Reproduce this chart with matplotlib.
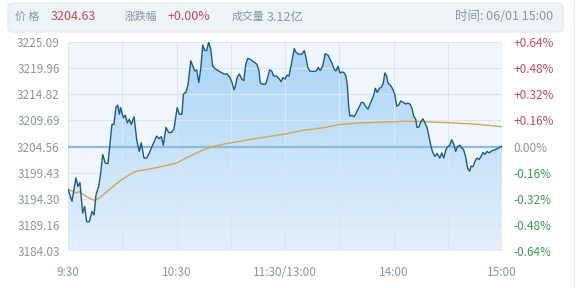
import numpy as np
import matplotlib
matplotlib.use("Agg")
import matplotlib.pyplot as plt
from matplotlib.patches import FancyBboxPatch
from matplotlib.lines import Line2D
from matplotlib.colors import LinearSegmentedColormap

plt.rcParams['font.family'] = ['Noto Sans CJK SC', 'DejaVu Sans']

# ---- data ----
base_price = 3204.56
close_price = 3204.63
change_pct = "+0.00%"
volume = "3.12亿"
time_label = "时间: 06/01 15:00"

price_min = [0, 2.2, 4.4, 5.5, 6.6, 8.1, 9.2, 10.3, 11.8, 13.3, 14.4, 15.5, 17.0, 18.1, 19.2,
             20.6, 22.1, 23.6, 24.3, 25.4, 26.5, 27.5, 28.4, 29.1, 30.6, 31.7, 32.8, 33.9, 35.0,
             36.5, 38.0, 39.4, 40.5, 42.0, 43.5, 45.0, 46.5, 48.1, 49.0, 50.5, 51.6, 52.7, 54.2,
             55.7, 57.1, 58.6, 60.4, 61.5, 63.0, 63.8, 65.3, 66.4, 67.9, 69.0, 70.1, 71.2, 72.3,
             73.4, 74.5, 75.6, 76.7, 77.8, 78.9, 80.0, 81.5, 83.3, 84.8, 86.3, 88.1, 89.6, 90.7,
             91.8, 92.4, 93.6, 94.8, 96.1, 97.2, 98.3, 99.4, 101.2, 103.0, 104.5, 105.6, 106.3,
             107.4, 109.3, 110.4, 111.5, 112.6, 113.8, 115.2, 116.7, 117.8, 118.9, 120.0, 121.1,
             122.2, 123.7, 125.1, 126.2, 127.7, 129.2, 130.7, 131.8, 132.6, 133.7, 135.5, 137.3,
             138.4, 139.5, 140.9, 142.2, 143.8, 144.9, 146.0, 147.1, 148.2, 149.3, 150.4, 151.5,
             152.6, 153.7, 154.5, 155.2, 155.9, 157.1, 158.2, 159.3, 160.8, 162.2, 163.3, 164.4,
             165.9, 167.0, 168.1, 169.2, 169.9, 171.0, 172.2, 173.3, 174.4, 175.2, 176.2, 177.0,
             178.5, 179.6, 180.7, 181.8, 182.9, 184.0, 185.4, 186.9, 188.0, 189.1, 190.1, 191.2,
             192.3, 193.0, 194.1, 195.2, 196.3, 197.4, 198.5, 199.6, 200.7, 201.8, 202.9, 204.1,
             205.6, 206.7, 207.8, 208.9, 210.0, 211.1, 212.2, 213.3, 214.4, 215.5, 216.6, 217.7,
             218.8, 219.9, 221.0, 222.1, 222.9, 224.0, 225.1, 226.2, 227.3, 228.4, 229.5, 230.6,
             231.7, 232.8, 233.9, 235.0, 236.1, 237.2, 238.3, 240]
price_val = [3196.2, 3193.8, 3198.4, 3196.7, 3197.5, 3191.5, 3192.8, 3189.8, 3189.8, 3191.8,
             3191.1, 3195.1, 3196.7, 3199.4, 3203.0, 3201.3, 3201.2, 3206.6, 3208.9, 3208.9,
             3212.2, 3212.7, 3210.9, 3212.2, 3210.2, 3210.7, 3209.2, 3209.9, 3208.9, 3210.4,
             3205.9, 3203.6, 3205.3, 3202.3, 3202.3, 3203.3, 3204.6, 3205.9, 3206.6, 3206.1,
             3206.5, 3204.8, 3208.3, 3207.3, 3207.3, 3208.0, 3212.2, 3210.9, 3210.9, 3214.8,
             3215.3, 3216.8, 3221.4, 3220.4, 3219.4, 3219.6, 3217.1, 3219.8, 3224.5, 3223.4,
             3223.4, 3225.1, 3223.7, 3220.4, 3219.8, 3219.4, 3219.1, 3218.8, 3218.8, 3218.1,
             3217.1, 3215.7, 3216.2, 3218.2, 3218.8, 3217.8, 3217.5, 3220.7, 3221.9, 3221.6,
             3221.1, 3220.7, 3219.4, 3217.1, 3216.8, 3216.8, 3218.1, 3219.6, 3219.4, 3218.4,
             3218.4, 3217.9, 3217.3, 3218.1, 3217.8, 3218.6, 3218.4, 3221.1, 3223.8, 3223.0,
             3222.7, 3222.7, 3223.4, 3221.7, 3220.1, 3219.4, 3219.3, 3219.4, 3220.1, 3219.5,
             3220.4, 3222.8, 3222.5, 3221.7, 3220.9, 3219.8, 3219.4, 3220.3, 3219.0, 3219.2,
             3219.1, 3218.4, 3216.5, 3212.5, 3210.5, 3210.7, 3210.4, 3211.1, 3212.2, 3213.2,
             3213.2, 3212.5, 3211.9, 3212.9, 3213.8, 3214.8, 3216.0, 3215.2, 3216.0, 3216.2,
             3217.1, 3219.0, 3218.4, 3217.0, 3216.5, 3215.8, 3214.8, 3212.5, 3212.7, 3213.5,
             3213.2, 3212.9, 3213.1, 3212.9, 3212.2, 3210.5, 3209.9, 3208.3, 3208.4, 3209.5,
             3210.0, 3209.2, 3208.3, 3206.6, 3204.6, 3203.3, 3202.6, 3203.2, 3202.3, 3203.3,
             3202.3, 3203.9, 3204.5, 3204.8, 3205.9, 3205.0, 3203.6, 3204.6, 3204.8, 3204.3,
             3203.9, 3202.5, 3200.3, 3199.7, 3200.7, 3200.6, 3201.7, 3202.3, 3202.0, 3202.6,
             3203.4, 3203.0, 3203.6, 3203.3, 3203.6, 3203.8, 3203.9, 3204.1, 3204.3, 3204.63]

avg_min = [0, 4.4, 6.3, 10.0, 14.5, 17.3, 22.8, 28.4, 33.9, 37.6, 43.1, 48.7, 52.7, 60.1, 63.8,
           69.3, 74.8, 80.4, 85.9, 92.9, 103.4, 114.5, 120.0, 129.2, 140.5, 150.4, 161.5, 176.2,
           187.5, 197.4, 214.0, 226.7, 240]
avg_val = [3196.2, 3195.4, 3195.7, 3194.75, 3194.0, 3194.4, 3196.1, 3197.7, 3199.0, 3199.7,
           3200.0, 3200.4, 3200.7, 3201.3, 3202.0, 3203.0, 3203.9, 3204.6, 3205.0, 3205.45,
           3206.1, 3206.7, 3207.0, 3207.7, 3208.2, 3208.9, 3209.2, 3209.4, 3209.55, 3209.4,
           3209.2, 3208.9, 3208.45]

left_ticks = ["3225.09", "3219.96", "3214.82", "3209.69", "3204.56",
              "3199.43", "3194.30", "3189.16", "3184.03"]
right_ticks = ["+0.64%", "+0.48%", "+0.32%", "+0.16%", "0.00%",
               "-0.16%", "-0.32%", "-0.48%", "-0.64%"]
x_tick_min = [0, 60, 120, 180, 240]
x_tick_labels = ["9:30", "10:30", "11:30/13:00", "14:00", "15:00"]

# ---- styling ----
GREY = '#8796a5'
RED = '#c8485a'
GREEN = '#3d9a50'

W, H = 577, 288
fig = plt.figure(figsize=(W / 100, H / 100), dpi=100)
fig.patch.set_facecolor('white')

# faint container border on the right
fig.add_artist(Line2D([573.5 / W, 573.5 / W], [0, 1], transform=fig.transFigure,
                      color='#e6ebf0', lw=0.8))

# header bar
hdr = FancyBboxPatch((8 / W, 1 - 32 / H), 555 / W, 29 / H,
                     boxstyle="round,pad=0,rounding_size=0.012",
                     transform=fig.transFigure, facecolor='#eef3f8',
                     edgecolor='#e1e9f1', linewidth=0.8)
fig.patches.append(hdr)
ty = 1 - 17 / H
fs_h = 9
fs_cjk = 7.8
fig.text(15 / W, ty, "价 格", color=GREY, fontsize=fs_cjk, va='center')
fig.text(51 / W, ty, f"{close_price:.2f}", color=RED, fontsize=fs_h, va='center')
fig.text(125 / W, ty, "涨跌幅", color=GREY, fontsize=fs_cjk, va='center')
fig.text(168 / W, ty, change_pct, color=RED, fontsize=fs_h, va='center')
fig.text(232 / W, ty, "成交量", color=GREY, fontsize=fs_cjk, va='center')
fig.text(267 / W, ty, volume, color=GREY, fontsize=fs_h, va='center')
fig.text(553 / W, ty, time_label, color=GREY, fontsize=fs_h, va='center', ha='right')

ax = fig.add_axes([68 / W, 1 - 251 / H, 434 / W, 209 / H])
ymax = float(left_ticks[0])
ymin = float(left_ticks[-1])
ax.set_xlim(0, 240)
ax.set_ylim(ymin, ymax)
ax.set_facecolor('#f0f6fc')

# fill with gradient
poly = ax.fill_between(price_min, price_val, ymin, color='none', lw=0)
cmap = LinearSegmentedColormap.from_list('g', ['#e4f0fb', '#a8d4f7'])
grad = np.linspace(0, 1, 256).reshape(-1, 1)
im = ax.imshow(grad, extent=[0, 240, ymin, ymax], origin='lower', aspect='auto',
               cmap=cmap, zorder=1)
path = poly.get_paths()[0]
im.set_clip_path(path, transform=ax.transData)

# grid
yt = [float(t) for t in left_ticks]
for y in yt:
    ax.axhline(y, color='#dbe6f0', lw=0.8, zorder=2)
for m in range(0, 241, 30):
    ax.axvline(m, color='#dbe6f0', lw=0.8, zorder=2)
ax.axhline(base_price, color='#8dbbdf', lw=1.6, zorder=3)

ax.plot(avg_min, avg_val, color='#d6a45c', lw=1.0, zorder=4)
ax.plot(price_min, price_val, color='#1c5b86', lw=1.0, zorder=5)

for s in ax.spines.values():
    s.set_visible(False)
ax.set_yticks(yt)
ax.set_yticklabels(left_ticks)
ax.set_xticks(x_tick_min)
ax.set_xticklabels(x_tick_labels)
ax.tick_params(axis='both', length=0, labelsize=8.5, labelcolor=GREY)
ax.tick_params(axis='y', pad=6)
ax.tick_params(axis='x', pad=11)

ax2 = ax.twinx()
ax2.set_ylim(ymin, ymax)
ax2.set_yticks(yt)
ax2.set_yticklabels(right_ticks)
for s in ax2.spines.values():
    s.set_visible(False)
ax2.tick_params(axis='y', length=0, labelsize=8.5, pad=8)
for lbl, txt in zip(ax2.get_yticklabels(), right_ticks):
    if txt.startswith('+'):
        lbl.set_color(RED)
    elif txt.startswith('-'):
        lbl.set_color(GREEN)
    else:
        lbl.set_color(GREY)

fig.savefig('out.png', dpi=100)
